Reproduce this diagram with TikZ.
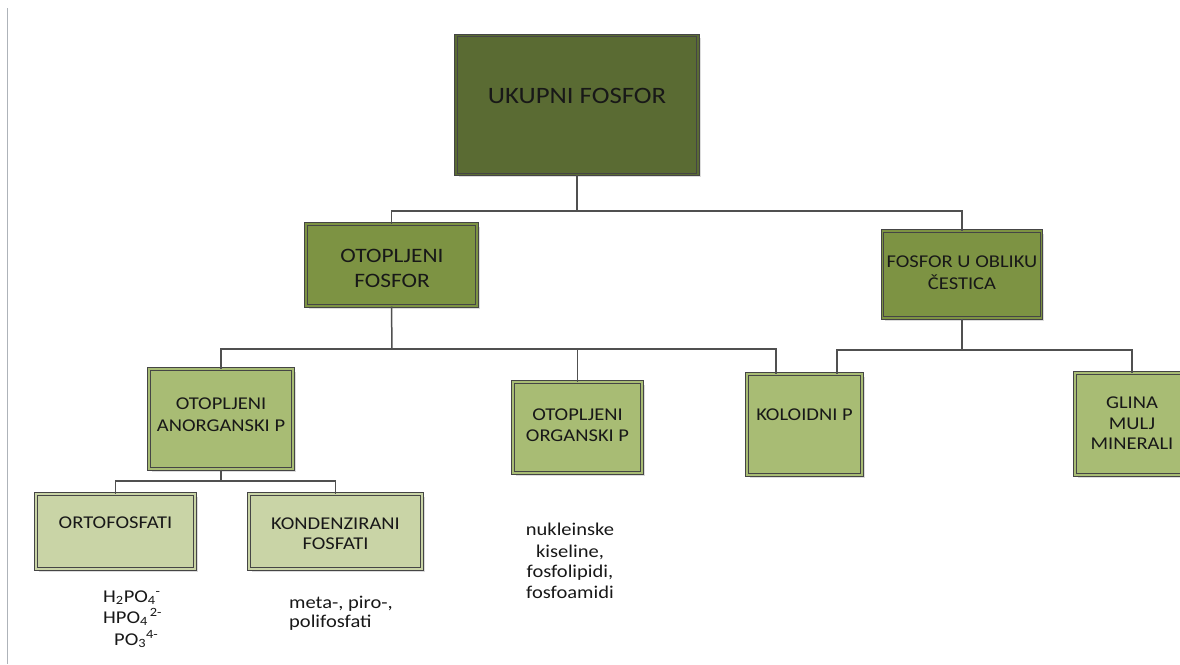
\documentclass[tikz,border=0pt]{standalone}
\usepackage{fontspec}
\setmainfont{Carlito}[FakeStretch=1.14]
\usetikzlibrary{calc,shadows}
\definecolor{lv0}{HTML}{5A6B33}
\definecolor{lv1}{HTML}{7D9343}
\definecolor{lv2}{HTML}{A8BC74}
\definecolor{lv3}{HTML}{C9D4A6}
\definecolor{edge}{HTML}{454545}
\definecolor{conn}{HTML}{505050}
\definecolor{txtc}{HTML}{181818}
\definecolor{rule}{HTML}{AEB3B9}
\tikzset{
  box/.style={rectangle, draw=edge, line width=1pt, double distance=1.3pt, inner sep=0pt,
    drop shadow={shadow xshift=2.5pt, shadow yshift=-2.5pt, fill=black!30, opacity=0.45}},
  boxa/.style={box, fill=lv0, double=lv0},
  boxb/.style={box, fill=lv1, double=lv1},
  boxc/.style={box, fill=lv2, double=lv2},
  boxd/.style={box, fill=lv3, double=lv3},
  lbl/.style={text=txtc, align=center, inner sep=0pt, font=\fontsize{18}{21.5}\selectfont},
  lblbig/.style={lbl, font=\fontsize{23.5}{27}\selectfont},
  lblmid/.style={lbl, font=\fontsize{20.5}{24.5}\selectfont},
  note/.style={text=txtc, inner sep=0pt, font=\fontsize{18}{21}\selectfont},
  wire/.style={draw=conn, line width=1.5pt}
}
\begin{document}
\begin{tikzpicture}[x=1pt,y=-1pt]
\useasboundingbox (0,0) rectangle (1180,664);
\fill[white] (0,0) rectangle (1180,664);
\clip (0,0) rectangle (1180,664);
\draw[rule, line width=1.5pt] (7.5,8) -- (7.5,664);

% boxes
\node[boxa, minimum width=242pt, minimum height=139pt] (b0) at (577,105) {};
\node[boxb, minimum width=171pt, minimum height=82pt] (b1) at (391.5,265) {};
\node[boxb, minimum width=159pt, minimum height=87pt] (b2) at (962,274.5) {};
\node[boxc, minimum width=144pt, minimum height=100pt] (b3) at (221,419) {};
\node[boxc, minimum width=129pt, minimum height=91pt] (b4) at (577.5,427.5) {};
\node[boxc, minimum width=115pt, minimum height=101pt] (b5) at (804.5,424.5) {};
\node[boxc, minimum width=114pt, minimum height=102pt] (b6) at (1132,424) {};
\node[boxd, minimum width=159pt, minimum height=75pt] (b7) at (115.5,531.5) {};
\node[boxd, minimum width=173pt, minimum height=75pt] (b8) at (335.5,531.5) {};

% labels
\node[lblbig] (t0) at (577,95.5) {UKUPNI FOSFOR};
\node[lblmid] (t1) at (392,268.5) {OTOPLJENI\\FOSFOR};
\node[lbl] (t2) at (962,272.5) {FOSFOR U OBLIKU\\ČESTICA};
\node[lbl] (t3) at (221,414.5) {OTOPLJENI\\ANORGANSKI P};
\node[lbl] (t4) at (577.5,425) {OTOPLJENI\\ORGANSKI P};
\node[lbl] (t5) at (804.5,415) {KOLOIDNI P};
\node[lbl, font=\fontsize{18}{20.5}\selectfont] (t6) at (1132,423.5) {GLINA\\MULJ\\MINERALI};
\node[lbl] (t7) at (115.5,523) {ORTOFOSFATI};
\node[lbl, font=\fontsize{18}{20}\selectfont] (t8) at (335.5,534) {KONDENZIRANI\\FOSFATI};

% connectors
\coordinate (j0) at (577,211);
\draw[wire] (b0.south) -- (j0);
\draw[wire] (j0) -| (b1.north);
\draw[wire] (j0) -| (b2.north);

\coordinate (j1) at (392,349);
\coordinate (k5a) at ($(b5.north)+(-28.5,0)$);
\coordinate (k5b) at ($(b5.north)+(32.5,0)$);
\draw[wire] (b1.south) -- (j1);
\draw[wire] (j1) -| (b3.north);
\draw[wire] (j1) -| (k5a);
\draw[wire] (b4.north) -- (b4.north |- j1);

\coordinate (j2) at (962,350);
\draw[wire] (b2.south) -- (j2);
\draw[wire] (j2) -| (k5b);
\draw[wire] (j2) -| (b6.north);

\coordinate (j3) at (221,481);
\draw[wire] (b3.south) -- (j3);
\draw[wire] (j3) -| (b7.north);
\draw[wire] (j3) -| (b8.north);

% notes
\node[note, anchor=base west] (f1) at (103,602) {H\textsubscript{2}PO\textsubscript{4}\textsuperscript{-}};
\node[note, anchor=base west] (f2) at (103,623) {HPO\textsubscript{4}\hspace{2pt}\textsuperscript{2-}};
\node[note, anchor=base west] (f3) at (114,645) {PO\textsubscript{3}\textsuperscript{4-}};

\node[note, anchor=base west] (m1) at (289,608) {meta-, piro-,};
\node[note, anchor=base west] (m2) at (289,627) {polifosfati};

\node[note, anchor=base] (n1) at (570,535) {nukleinske};
\node[note, anchor=base] (n2) at (570,557) {kiseline,};
\node[note, anchor=base] (n3) at (570,577) {fosfolipidi,};
\node[note, anchor=base] (n4) at (570,598) {fosfoamidi};
\end{tikzpicture}
\end{document}
